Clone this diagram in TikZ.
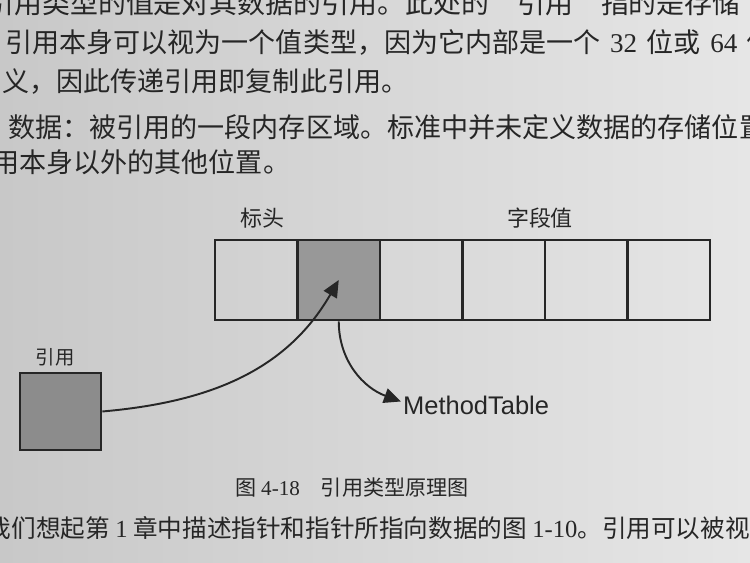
\documentclass[tikz,border=0pt]{standalone}
\usepackage{fontspec}
\setmainfont{Liberation Serif}
\newfontfamily\cjkfont{Noto Sans CJK SC}
\newfontfamily\arialfont{Liberation Sans}
\usetikzlibrary{arrows.meta}
\definecolor{ink}{RGB}{38,38,38}
\definecolor{paperdark}{RGB}{200,200,200}
\definecolor{paperlight}{RGB}{230,230,230}
\definecolor{boxgray}{RGB}{152,152,152}
\definecolor{refgray}{RGB}{140,140,140}
\newcommand{\openq}{\makebox[1em][r]{“}}
\newcommand{\closeq}{\makebox[1em][l]{”}}

\begin{document}
\begin{tikzpicture}[
        cell/.style={rectangle, draw=ink, line width=1.5pt, minimum width=1.65cm, minimum height=1.6cm, inner sep=0pt},
        hdrcell/.style={cell, fill=boxgray},
        refbox/.style={rectangle, draw=ink, line width=1.5pt, fill=refgray, minimum width=1.62cm, minimum height=1.54cm},
        tag/.style={font=\cjkfont\fontsize{12.5}{14}\selectfont, text=ink},
        body/.style={anchor=west, font=\cjkfont\fontsize{15.4}{18}\selectfont, text=ink, inner sep=0pt},
        arrow/.style={-{Triangle[length=3.4mm,width=3mm]}, line width=1.1pt, draw=ink}
    ]
    % Page
    \useasboundingbox (0,0) rectangle (15,11.26);
    \shade[left color=paperdark, right color=paperlight] (0,0) rectangle (15,11.26);

    % Text above the figure
    \node[body, font=\cjkfont\fontsize{15.9}{19}\selectfont] (line1) at (-0.28,11.2) {引用类型的值是对其数据的引用。此处的\openq 引用\closeq 指的是存储};
    \node[body] (line2) at (0.1,10.42) {引用本身可以视为一个值类型，因为它内部是一个\hspace{0.35em}{\rmfamily 32}\hspace{0.35em}位或\hspace{0.35em}{\rmfamily 64}\hspace{0.35em}位};
    \node[body] (line3) at (0.04,9.62) {义，因此传递引用即复制此引用。};
    \node[body] (line4) at (0.16,8.72) {数据：被引用的一段内存区域。标准中并未定义数据的存储位置};
    \node[body] (line5) at (-0.7,8.02) {引用本身以外的其他位置。};

    % Object: header and field values
    \node[cell] (cell1) at (5.125,5.66) {};
    \node[hdrcell] (cell2) at (6.775,5.66) {};
    \node[cell] (cell3) at (8.425,5.66) {};
    \node[cell] (cell4) at (10.075,5.66) {};
    \node[cell] (cell5) at (11.725,5.66) {};
    \node[cell] (cell6) at (13.375,5.66) {};
    \node[tag] (hdrtag) at (5.24,6.9) {标头};
    \node[tag] (fldtag) at (10.8,6.9) {字段值};

    % Reference
    \node[refbox] (ref) at (1.21,3.03) {};
    \node[tag, font=\cjkfont\fontsize{11}{13}\selectfont] (reftag) at (1.1,4.12) {引用};
    \node[anchor=west, font=\arialfont\fontsize{14.5}{16}\selectfont, text=ink, inner sep=1pt] (mt) at (8.02,3.16) {MethodTable};
    \draw[arrow] (ref.east) to[out=5, in=240] (cell2.center);
    \draw[arrow] (cell2.south) to[out=-90, in=160] ([yshift=2pt]mt.west);

    % Caption and text below
    \node[tag, font=\cjkfont\fontsize{12}{14}\selectfont] (caption) at (7.04,1.5) {图 {\rmfamily 4-18}\quad 引用类型原理图};
    \node[body, font=\cjkfont\fontsize{14}{17}\selectfont] (line6) at (-0.76,0.7) {让我们想起第 {\rmfamily 1} 章中描述指针和指针所指向数据的图 {\rmfamily 1-10}。引用可以被视};
\end{tikzpicture}
\end{document}
